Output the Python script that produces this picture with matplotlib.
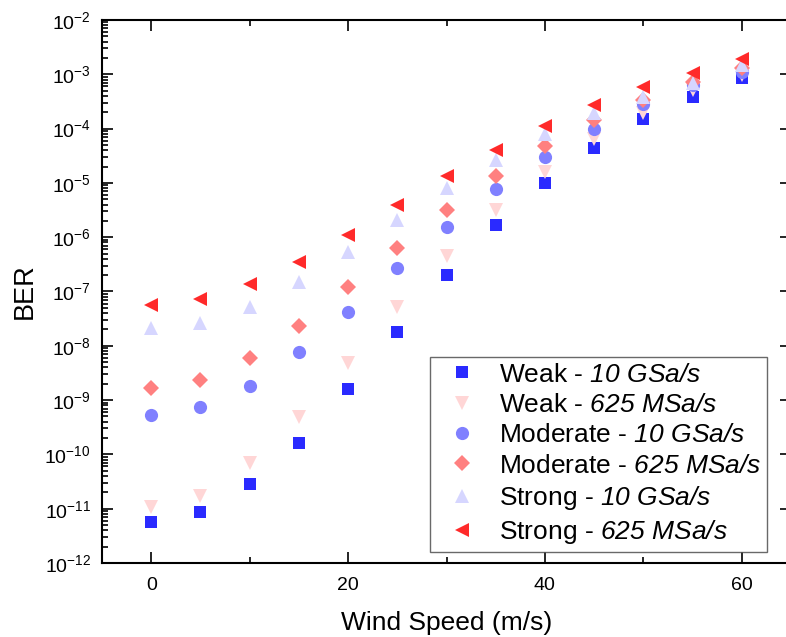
import matplotlib
matplotlib.use("Agg")
import matplotlib.pyplot as plt
from matplotlib.ticker import LogLocator, MultipleLocator, NullFormatter, FuncFormatter
import math

plt.rcParams['font.family'] = ['Liberation Sans', 'DejaVu Sans']
plt.rcParams['mathtext.fontset'] = 'custom'
plt.rcParams['mathtext.rm'] = 'Liberation Sans'
plt.rcParams['mathtext.it'] = 'Liberation Sans:italic'
plt.rcParams['mathtext.sf'] = 'Liberation Sans:italic'

wind = [0, 5, 10, 15, 20, 25, 30, 35, 40, 45, 50, 55, 60]

weak_10g = [5.8e-12, 8.7e-12, 2.9e-11, 1.6e-10, 1.6e-9, 1.8e-8, 2.0e-7, 1.66e-6, 1.0e-5, 4.4e-5, 1.5e-4, 3.8e-4, 8.5e-4]
weak_625m = [1.07e-11, 1.7e-11, 6.9e-11, 4.9e-10, 4.8e-9, 5.1e-8, 4.5e-7, 3.2e-6, 1.6e-5, 6.3e-5, 1.9e-4, 5.2e-4, 9.7e-4]
moderate_10g = [5.4e-10, 7.4e-10, 1.8e-9, 7.6e-9, 4.2e-8, 2.7e-7, 1.55e-6, 7.8e-6, 3.0e-5, 1.0e-4, 2.8e-4, 6.3e-4, 1.1e-3]
moderate_625m = [1.7e-9, 2.3e-9, 6.0e-9, 2.3e-8, 1.2e-7, 6.3e-7, 3.2e-6, 1.35e-5, 4.8e-5, 1.44e-4, 3.4e-4, 7.2e-4, 1.3e-3]
strong_10g = [2.1e-8, 2.6e-8, 5.2e-8, 1.5e-7, 5.4e-7, 2.1e-6, 7.9e-6, 2.6e-5, 8.0e-5, 1.9e-4, 3.8e-4, 6.9e-4, 1.5e-3]
strong_625m = [5.6e-8, 7.2e-8, 1.35e-7, 3.5e-7, 1.1e-6, 3.9e-6, 1.35e-5, 4.1e-5, 1.12e-4, 2.7e-4, 5.8e-4, 1.07e-3, 1.9e-3]

labels = [
    r"Weak - $\mathsf{10\ GSa/s}$",
    r"Weak - $\mathsf{625\ MSa/s}$",
    r"Moderate - $\mathsf{10\ GSa/s}$",
    r"Moderate - $\mathsf{625\ MSa/s}$",
    r"Strong - $\mathsf{10\ GSa/s}$",
    r"Strong - $\mathsf{625\ MSa/s}$",
]

series = [weak_10g, weak_625m, moderate_10g, moderate_625m, strong_10g, strong_625m]
markers = ['s', 'v', 'o', 'D', '^', '<']
colors = ['#2a2aff', '#ffd6d6', '#8080ff', '#ff8080', '#d6d6ff', '#ff2a2a']
sizes = [8, 10, 9.5, 8, 10, 10]

fig = plt.figure(figsize=(7.86, 6.37), dpi=100)
ax = fig.add_axes([102 / 786, 1 - 563 / 637, (791 - 102) / 786, (563 - 20) / 637])

for ys, m, c, s, lab in zip(series, markers, colors, sizes, labels):
    ax.plot(wind, ys, linestyle='none', marker=m, color=c, markersize=s,
            markeredgewidth=0, label=lab)

ax.set_yscale('log')
ax.set_xlim(-5, 65)
ax.set_ylim(1e-12, 1e-2)

ax.xaxis.set_major_locator(MultipleLocator(20))
ax.xaxis.set_minor_locator(MultipleLocator(10))
ax.yaxis.set_major_locator(LogLocator(base=10, numticks=20))
ax.yaxis.set_minor_locator(LogLocator(base=10, subs=range(2, 10), numticks=100))
ax.yaxis.set_minor_formatter(NullFormatter())
ax.yaxis.set_major_formatter(FuncFormatter(lambda v, p: r"$10^{%d}$" % round(math.log10(v))))

ax.tick_params(which='both', direction='in', top=True, right=True, labelsize=14, width=1.2)
ax.tick_params(which='major', length=8)
ax.tick_params(axis='x', which='major', pad=10)
ax.tick_params(axis='y', which='major', pad=8)
ax.tick_params(which='minor', length=4)
ax.tick_params(axis='y', which='minor', right=False)

for sp in ax.spines.values():
    sp.set_linewidth(1.5)

ax.set_xlabel('Wind Speed (m/s)', fontsize=19, labelpad=12)
ax.set_ylabel('BER', fontsize=19.5, labelpad=5)

leg = ax.legend(loc='lower right', bbox_to_anchor=((767 - 102) / 689, (563 - 552) / 543),
                fontsize=19, frameon=True, fancybox=False, borderaxespad=0,
                labelspacing=0.24, handletextpad=0.4, borderpad=0.22,
                handlelength=2.0, edgecolor='#444444')
leg.get_frame().set_linewidth(1.0)

fig.savefig('out.png', dpi=100)
